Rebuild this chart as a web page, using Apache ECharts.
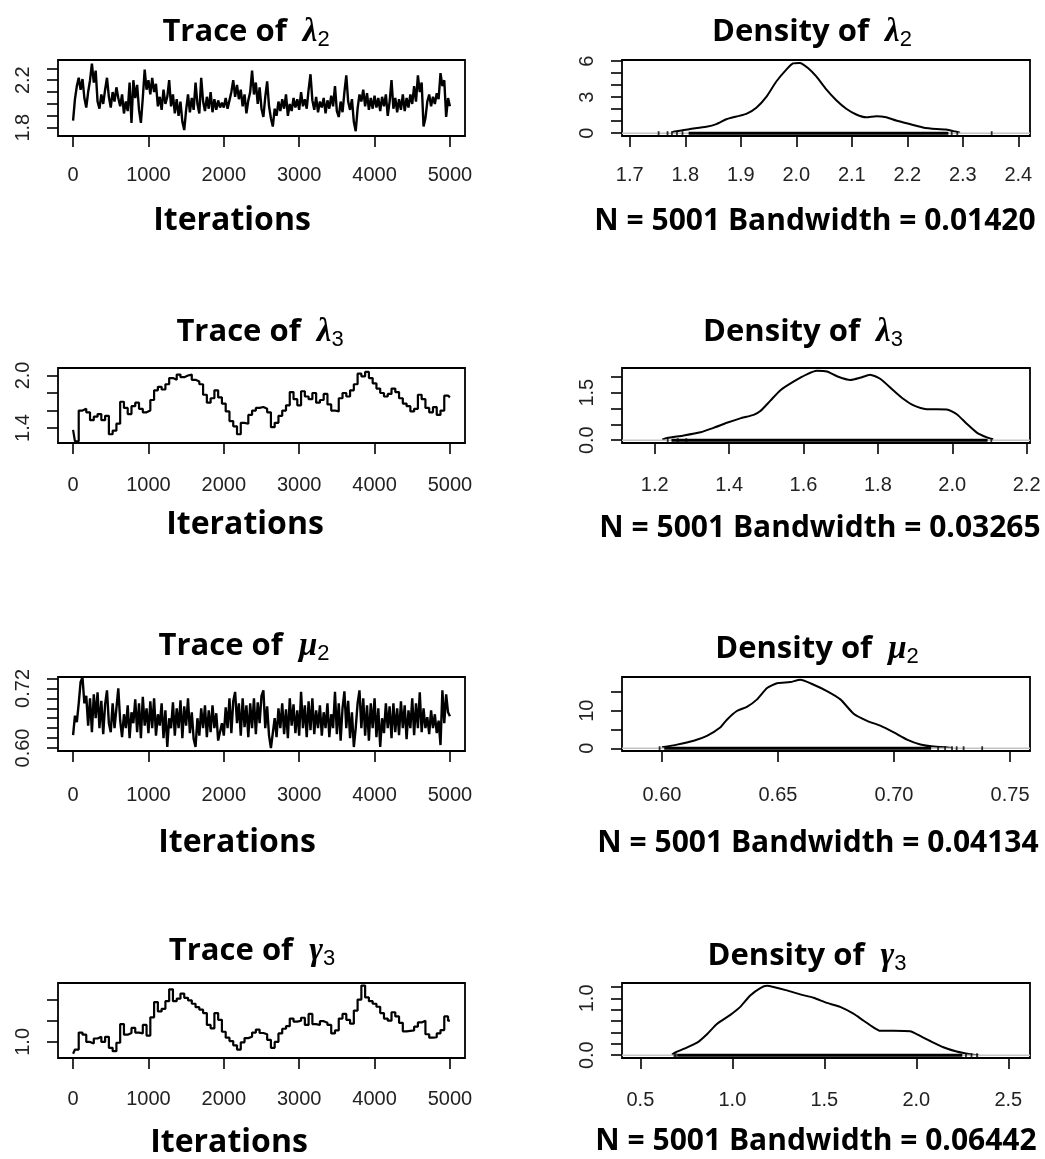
<!DOCTYPE html>
<html>
<head>
<meta charset="utf-8">
<script src="https://cdn.jsdelivr.net/npm/echarts@6/dist/echarts.min.js"></script>
<style>
  html, body { margin: 0; padding: 0; background: #fff; }
  #chart { width: 1045px; height: 1159px; }
</style>
</head>
<body>
<div id="chart"></div>
<script>
// ---------------------------------------------------------------------------
// MCMC output: trace draws (thinned) and kernel density estimates
// ---------------------------------------------------------------------------
const N_DRAWS = 5001;
const traceIterTicks = [0, 1000, 2000, 3000, 4000, 5000];

// lambda_2 chain, one stored draw every 25 iterations
const lambda2Step = 25;
const lambda2Trace = [
  1.86, 2.04, 2.15, 2.22, 2.12, 2.21, 2.05, 1.97, 2.10, 2.20, 2.34, 2.18, 2.28, 2.02, 1.96, 2.08, 2.00, 2.12, 2.22, 2.06,
  1.97, 2.10, 2.02, 2.14, 2.05, 1.98, 2.08, 1.92, 2.02, 1.94, 2.18, 1.84, 2.20, 2.05, 2.16, 1.95, 1.84, 2.05, 2.29, 2.12,
  2.20, 2.08, 2.22, 2.10, 2.17, 1.98, 2.06, 1.95, 2.12, 2.00, 2.06, 2.20, 1.98, 2.08, 1.92, 2.04, 1.90, 2.02, 1.85, 1.78,
  1.95, 2.08, 1.93, 2.05, 1.95, 2.18, 2.00, 1.92, 2.22, 2.02, 1.94, 2.06, 1.96, 2.10, 1.93, 2.04, 1.95, 2.03, 1.97, 2.01,
  1.97, 2.05, 1.96, 2.03, 2.10, 2.20, 2.06, 2.16, 2.04, 2.12, 1.98, 2.08, 1.92, 2.03, 2.10, 2.28, 2.08, 2.18, 2.00, 2.14,
  1.96, 1.89, 2.06, 2.19, 1.98, 1.88, 1.81, 1.96, 1.90, 2.02, 1.94, 2.04, 1.96, 2.08, 1.90, 2.00, 1.94, 2.05, 1.97, 2.04,
  1.95, 2.10, 1.98, 2.04, 1.96, 2.12, 2.25, 2.03, 1.95, 2.06, 1.93, 2.02, 1.97, 2.05, 1.92, 2.03, 1.96, 2.07, 1.98, 2.15,
  1.94, 1.89, 2.02, 1.93, 2.10, 2.24, 2.02, 1.95, 2.04, 1.85, 1.77, 1.96, 2.08, 2.02, 2.12, 1.98, 2.09, 1.95, 2.05, 1.96,
  2.07, 1.97, 2.05, 1.94, 2.06, 1.98, 2.08, 1.90, 2.02, 2.20, 1.96, 2.05, 1.93, 2.04, 1.95, 2.08, 1.94, 2.05, 1.97, 2.08,
  2.00, 2.15, 2.02, 2.24, 2.10, 2.18, 1.81, 1.88, 2.02, 2.08, 1.98, 2.06, 2.00, 2.09, 2.04, 2.26, 2.15, 2.20, 1.89, 2.05,
  1.98
];
const lambda2TraceYTicks = [1.8, 1.9, 2.0, 2.1, 2.2, 2.3];
const lambda2TraceYLabels = [1.8, 2.2];

// lambda_3 chain, one stored draw every 50 iterations
const lambda3Step = 50;
const lambda3Trace = [
  1.38, 1.25, 1.60, 1.62, 1.58, 1.49, 1.53, 1.56, 1.49, 1.54, 1.33, 1.37, 1.45, 1.70, 1.63, 1.56, 1.65, 1.69, 1.62, 1.58,
  1.60, 1.72, 1.83, 1.87, 1.84, 1.90, 1.97, 1.95, 2.01, 1.98, 2.00, 2.01, 1.95, 1.93, 1.90, 1.78, 1.69, 1.74, 1.83, 1.75,
  1.68, 1.59, 1.48, 1.42, 1.33, 1.46, 1.45, 1.55, 1.60, 1.63, 1.64, 1.62, 1.58, 1.41, 1.46, 1.54, 1.60, 1.66, 1.81, 1.73,
  1.66, 1.82, 1.76, 1.73, 1.80, 1.69, 1.72, 1.79, 1.67, 1.60, 1.59, 1.74, 1.80, 1.76, 1.83, 1.90, 2.02, 1.99, 2.04, 1.97,
  1.91, 1.85, 1.80, 1.76, 1.79, 1.85, 1.81, 1.74, 1.68, 1.65, 1.59, 1.62, 1.78, 1.73, 1.63, 1.58, 1.64, 1.55, 1.60, 1.77,
  1.75
];
const lambda3TraceYTicks = [1.4, 1.6, 1.8, 2.0];
const lambda3TraceYLabels = [1.4, 2.0];

// mu_2 chain, one stored draw every 25 iterations
const mu2Step = 25;
const mu2Trace = [
  0.626, 0.665, 0.652, 0.690, 0.733, 0.742, 0.690, 0.705, 0.645, 0.700, 0.632, 0.708, 0.660, 0.712, 0.640, 0.695, 0.628, 0.688, 0.716, 0.650,
  0.632, 0.690, 0.640, 0.680, 0.720, 0.655, 0.622, 0.668, 0.640, 0.686, 0.620, 0.672, 0.650, 0.698, 0.632, 0.690, 0.620, 0.703, 0.645, 0.680,
  0.630, 0.694, 0.640, 0.700, 0.625, 0.668, 0.645, 0.690, 0.620, 0.676, 0.602, 0.660, 0.640, 0.692, 0.625, 0.680, 0.640, 0.696, 0.620, 0.684,
  0.645, 0.700, 0.630, 0.672, 0.618, 0.602, 0.660, 0.625, 0.680, 0.640, 0.686, 0.622, 0.676, 0.632, 0.686, 0.640, 0.670, 0.615, 0.612, 0.650,
  0.625, 0.682, 0.640, 0.700, 0.630, 0.694, 0.713, 0.650, 0.690, 0.625, 0.700, 0.642, 0.686, 0.622, 0.690, 0.640, 0.700, 0.628, 0.692, 0.650,
  0.705, 0.716, 0.640, 0.684, 0.625, 0.600, 0.630, 0.660, 0.622, 0.680, 0.640, 0.690, 0.628, 0.678, 0.620, 0.700, 0.645, 0.688, 0.630, 0.676,
  0.625, 0.713, 0.640, 0.686, 0.622, 0.694, 0.636, 0.700, 0.628, 0.676, 0.640, 0.686, 0.625, 0.672, 0.640, 0.690, 0.622, 0.668, 0.640, 0.713,
  0.628, 0.690, 0.615, 0.680, 0.714, 0.640, 0.695, 0.620, 0.672, 0.602, 0.640, 0.690, 0.716, 0.640, 0.700, 0.625, 0.686, 0.615, 0.690, 0.640,
  0.700, 0.622, 0.680, 0.602, 0.660, 0.630, 0.690, 0.640, 0.684, 0.620, 0.690, 0.632, 0.680, 0.626, 0.694, 0.640, 0.686, 0.618, 0.676, 0.640,
  0.700, 0.626, 0.690, 0.640, 0.712, 0.632, 0.680, 0.640, 0.662, 0.628, 0.676, 0.640, 0.668, 0.630, 0.655, 0.606, 0.716, 0.650, 0.708, 0.672,
  0.664
];
const mu2TraceYTicks = [0.60, 0.62, 0.64, 0.66, 0.68, 0.70, 0.72, 0.74];
const mu2TraceYLabels = [0.60, 0.72];

// gamma_3 chain, one stored draw every 50 iterations
const gamma3Step = 50;
const gamma3Trace = [
  0.72, 0.82, 1.22, 1.17, 1.00, 0.96, 1.08, 1.12, 1.00, 1.12, 0.86, 0.78, 0.98, 1.42, 1.17, 1.21, 1.33, 1.22, 1.20, 1.40,
  1.15, 1.58, 1.94, 1.72, 1.78, 1.96, 2.24, 1.96, 2.02, 2.14, 2.04, 1.98, 1.90, 1.82, 1.76, 1.68, 1.40, 1.32, 1.68, 1.52,
  1.24, 1.10, 1.02, 0.92, 0.82, 0.99, 1.09, 1.12, 1.22, 1.29, 1.21, 1.18, 1.05, 0.86, 1.00, 1.20, 1.31, 1.37, 1.55, 1.48,
  1.50, 1.57, 1.40, 1.66, 1.42, 1.40, 1.49, 1.45, 1.40, 1.20, 1.27, 1.55, 1.66, 1.52, 1.43, 1.74, 2.00, 2.33, 2.05, 1.96,
  1.90, 1.83, 1.68, 1.55, 1.50, 1.70, 1.60, 1.45, 1.25, 1.26, 1.27, 1.36, 1.46, 1.50, 1.18, 1.10, 1.11, 1.20, 1.28, 1.60,
  1.50
];
const gamma3TraceYTicks = [1.0, 1.5, 2.0];
const gamma3TraceYLabels = [1.0];

// Kernel density estimates: [value, density]
const lambda2Density = [
  [1.776, 0.05], [1.781, 0.14], [1.808, 0.34], [1.838, 0.54], [1.856, 0.76], [1.874, 1.16], [1.892, 1.39], [1.910, 1.61],
  [1.928, 2.12], [1.946, 3.03], [1.964, 4.31], [1.982, 5.30], [1.994, 5.81], [2.006, 5.86], [2.021, 5.44], [2.036, 4.73],
  [2.054, 3.65], [2.072, 2.75], [2.090, 2.04], [2.108, 1.56], [2.126, 1.33], [2.144, 1.42], [2.162, 1.33], [2.180, 1.05],
  [2.204, 0.76], [2.228, 0.48], [2.252, 0.34], [2.270, 0.30], [2.286, 0.14], [2.295, 0.04]
];
const lambda3Density = [
  [1.220, 0.02], [1.233, 0.07], [1.278, 0.15], [1.323, 0.25], [1.358, 0.39], [1.394, 0.55], [1.430, 0.69], [1.466, 0.80],
  [1.484, 0.92], [1.511, 1.25], [1.538, 1.58], [1.573, 1.85], [1.609, 2.08], [1.636, 2.19], [1.663, 2.17], [1.690, 2.02],
  [1.726, 1.90], [1.752, 1.97], [1.779, 2.07], [1.806, 1.94], [1.842, 1.57], [1.869, 1.30], [1.896, 1.10], [1.931, 0.98],
  [1.985, 0.97], [2.012, 0.82], [2.039, 0.52], [2.066, 0.24], [2.093, 0.09], [2.110, 0.03]
];
const mu2Density = [
  [0.600, 0.26], [0.6065, 0.96], [0.6137, 2.0], [0.6194, 3.3], [0.6251, 5.5], [0.628, 7.6], [0.6323, 9.9], [0.6366, 11.0],
  [0.641, 13.0], [0.6453, 16.0], [0.6496, 17.3], [0.6553, 17.6], [0.6596, 18.2], [0.6654, 16.9], [0.6711, 15.2], [0.6769, 13.0],
  [0.6826, 9.2], [0.6884, 7.3], [0.6941, 6.0], [0.6999, 4.2], [0.7056, 2.3], [0.7114, 1.0], [0.7171, 0.44], [0.725, 0.1]
];
const gamma3Density = [
  [0.672, 0.01], [0.690, 0.05], [0.735, 0.11], [0.808, 0.22], [0.862, 0.37], [0.916, 0.55], [0.989, 0.71], [1.043, 0.85],
  [1.097, 1.05], [1.152, 1.18], [1.188, 1.22], [1.224, 1.20], [1.296, 1.14], [1.369, 1.07], [1.441, 1.01], [1.514, 0.92],
  [1.586, 0.85], [1.658, 0.73], [1.712, 0.61], [1.767, 0.49], [1.803, 0.43], [1.876, 0.43], [1.966, 0.42], [2.020, 0.34],
  [2.075, 0.25], [2.147, 0.14], [2.219, 0.065], [2.292, 0.018], [2.340, 0.0]
];

// Rug of observed draws along the density baseline: dense span + isolated draws
const lambda2RugBand = [1.806, 2.274];
const lambda2RugDots = [1.752, 1.768, 1.776, 1.785, 1.795, 2.280, 2.290, 2.352];
const lambda3RugBand = [1.245, 2.095];
const lambda3RugDots = [1.235, 1.262, 1.285, 2.105];
const mu2RugBand = [0.601, 0.716];
const mu2RugDots = [0.599, 0.719, 0.722, 0.725, 0.727, 0.730, 0.738];
const gamma3RugBand = [0.700, 2.250];
const gamma3RugDots = [0.685, 0.693, 2.270, 2.300, 2.330];

const lambda2DensXTicks = [1.7, 1.8, 1.9, 2.0, 2.1, 2.2, 2.3, 2.4];
const lambda2DensYTicks = [0, 1, 2, 3, 4, 5, 6];
const lambda2DensYLabels = [0, 3, 6];
const lambda3DensXTicks = [1.2, 1.4, 1.6, 1.8, 2.0, 2.2];
const lambda3DensYTicks = [0, 0.5, 1.0, 1.5, 2.0];
const lambda3DensYLabels = [0, 1.5];
const mu2DensXTicks = [0.60, 0.65, 0.70, 0.75];
const mu2DensYTicks = [0, 5, 10, 15];
const mu2DensYLabels = [0, 10];
const gamma3DensXTicks = [0.5, 1.0, 1.5, 2.0, 2.5];
const gamma3DensYTicks = [0, 0.2, 0.4, 0.6, 0.8, 1.0, 1.2];
const gamma3DensYLabels = [0, 1.0];

const bandwidths = ['0.01420', '0.03265', '0.04134', '0.06442'];

// ---------------------------------------------------------------------------
// Panel layout
// ---------------------------------------------------------------------------
const TICK_FONT = '"Liberation Sans", Arial, sans-serif';
const TEXT_FONT = '"Open Sans", Lato, sans-serif';
const GREEK_FONT = '"Liberation Serif", "DejaVu Serif", serif';

const rows = [
  { top: 60,  height: 76, sym: 'λ', sub: '2' },
  { top: 368, height: 75, sym: 'λ', sub: '3' },
  { top: 677, height: 74, sym: 'μ', sub: '2' },
  { top: 983, height: 75, sym: 'γ', sub: '3' }
];

const panels = [
  // row 1
  { kind: 'trace', row: 0, values: lambda2Trace, step: lambda2Step, stepped: false,
    x: [-200, 5200], xTicks: traceIterTicks, xDec: 0, xMargin: 29,
    y: [1.73, 2.37], yTicks: lambda2TraceYTicks, yLabels: lambda2TraceYLabels, yDec: 1,
    title: [246, 32], xlab: [232, 221] },
  { kind: 'density', row: 0, curve: lambda2Density, band: lambda2RugBand, dots: lambda2RugDots, bw: bandwidths[0],
    x: [1.686, 2.421], xTicks: lambda2DensXTicks, xDec: 1, xMargin: 29,
    y: [-0.235, 6.1], yTicks: lambda2DensYTicks, yLabels: lambda2DensYLabels, yDec: 0,
    title: [812, 32], xlab: [815, 221] },
  // row 2
  { kind: 'trace', row: 1, values: lambda3Trace, step: lambda3Step, stepped: true,
    x: [-200, 5200], xTicks: traceIterTicks, xDec: 0, xMargin: 32,
    y: [1.23, 2.085], yTicks: lambda3TraceYTicks, yLabels: lambda3TraceYLabels, yDec: 1,
    title: [260, 332], xlab: [245, 525] },
  { kind: 'density', row: 1, curve: lambda3Density, band: lambda3RugBand, dots: lambda3RugDots, bw: bandwidths[1],
    x: [1.112, 2.209], xTicks: lambda3DensXTicks, xDec: 1, xMargin: 32,
    y: [-0.088, 2.28], yTicks: lambda3DensYTicks, yLabels: lambda3DensYLabels, yDec: 1,
    title: [803, 332], xlab: [820, 528] },
  // row 3
  { kind: 'trace', row: 2, values: mu2Trace, step: mu2Step, stepped: false,
    x: [-200, 5200], xTicks: traceIterTicks, xDec: 0, xMargin: 34,
    y: [0.594, 0.743], yTicks: mu2TraceYTicks, yLabels: mu2TraceYLabels, yDec: 2,
    title: [244, 646], xlab: [237, 843] },
  { kind: 'density', row: 2, curve: mu2Density, band: mu2RugBand, dots: mu2RugDots, bw: bandwidths[2],
    x: [0.5828, 0.7586], xTicks: mu2DensXTicks, xDec: 2, xMargin: 34,
    y: [-0.73, 18.95], yTicks: mu2DensYTicks, yLabels: mu2DensYLabels, yDec: 0,
    title: [817, 649], xlab: [818, 843] },
  // row 4
  { kind: 'trace', row: 3, values: gamma3Trace, step: gamma3Step, stepped: true,
    x: [-200, 5200], xTicks: traceIterTicks, xDec: 0, xMargin: 31,
    y: [0.62, 2.39], yTicks: gamma3TraceYTicks, yLabels: gamma3TraceYLabels, yDec: 1,
    title: [252, 951], xlab: [229, 1143] },
  { kind: 'density', row: 3, curve: gamma3Density, band: gamma3RugBand, dots: gamma3RugDots, bw: bandwidths[3],
    x: [0.40, 2.618], xTicks: gamma3DensXTicks, xDec: 1, xMargin: 32,
    y: [-0.049, 1.27], yTicks: gamma3DensYTicks, yLabels: gamma3DensYLabels, yDec: 1,
    title: [807, 956], xlab: [816, 1141] }
];

const COLS = { trace: { left: 58, width: 407 }, density: { left: 622, width: 408 } };

const option = {
  animation: false,
  backgroundColor: '#ffffff',
  grid: [], xAxis: [], yAxis: [], series: [], graphic: []
};

const tickStyle = { color: '#000', width: 1.6 };
const labelStyle = { color: '#222', fontFamily: TICK_FONT, fontSize: 20 };

panels.forEach((p, i) => {
  const row = rows[p.row];
  const col = COLS[p.kind];
  option.grid.push({
    left: col.left, top: row.top, width: col.width, height: row.height,
    show: true, borderColor: '#000', borderWidth: 1.8, backgroundColor: 'transparent',
    containLabel: false, outerBoundsMode: 'none'
  });
  option.xAxis.push({
    type: 'value', gridIndex: i, min: p.x[0], max: p.x[1], position: 'bottom',
    axisLine: { show: false, onZero: false }, splitLine: { show: false },
    axisTick: { show: true, inside: false, length: 11, lineStyle: tickStyle, customValues: p.xTicks },
    axisLabel: Object.assign({ show: true, margin: p.xMargin, customValues: p.xTicks,
      formatter: v => Number(v).toFixed(p.xDec) }, labelStyle)
  });
  option.yAxis.push({
    type: 'value', gridIndex: i, min: p.y[0], max: p.y[1], position: 'left',
    axisLine: { show: false, onZero: false }, splitLine: { show: false },
    axisTick: { show: true, inside: false, length: 11, lineStyle: tickStyle, customValues: p.yTicks },
    axisLabel: Object.assign({ show: true, margin: 25, rotate: 90, customValues: p.yLabels,
      formatter: v => Number(v).toFixed(p.yDec) }, labelStyle)
  });

  if (p.kind === 'trace') {
    // slowly mixing chains hold their value between accepted moves: drawn as steps
    option.series.push({
      type: 'line', xAxisIndex: i, yAxisIndex: i, silent: true,
      step: p.stepped ? 'middle' : false,
      data: p.values.map((v, k) => [k * p.step, v]),
      symbol: 'none', lineStyle: { color: '#000', width: p.stepped ? 2.2 : 2.4 }, z: 2
    });
  } else {
    option.series.push({
      type: 'line', xAxisIndex: i, yAxisIndex: i, silent: true,
      data: p.curve, smooth: 0.2, symbol: 'none',
      lineStyle: { color: '#000', width: 2 }, z: 2
    });
    // zero reference line across the panel
    option.series.push({
      type: 'line', xAxisIndex: i, yAxisIndex: i, silent: true,
      data: [[p.x[0], 0], [p.x[1], 0]], symbol: 'none',
      lineStyle: { color: '#c4c4c4', width: 1.4 }, z: 3
    });
    // rug of draws
    option.series.push({
      type: 'line', xAxisIndex: i, yAxisIndex: i, silent: true,
      data: [[p.band[0], 0], [p.band[1], 0]], symbol: 'none',
      lineStyle: { color: '#000', width: 3 }, z: 4
    });
    option.series.push({
      type: 'scatter', xAxisIndex: i, yAxisIndex: i, silent: true,
      data: p.dots.map(d => [d, 0]), symbol: 'rect', symbolSize: [1.8, 4],
      itemStyle: { color: '#000' }, z: 4
    });
  }

  const word = p.kind === 'trace' ? 'Trace' : 'Density';
  option.graphic.push({
    type: 'text', x: p.title[0], y: p.title[1], silent: true,
    style: {
      text: '{t|' + word + ' of  }{g|' + row.sym + '}{s|' + row.sub + '}',
      align: 'center', verticalAlign: 'middle',
      rich: {
        t: { fontFamily: TEXT_FONT, fontWeight: 'bold', fontSize: 31, lineHeight: 46, fill: '#000' },
        g: { fontFamily: GREEK_FONT, fontStyle: 'italic', fontWeight: 'bold', fontSize: 33, lineHeight: 46, fill: '#000' },
        s: { fontFamily: TICK_FONT, fontSize: 22, lineHeight: 46, padding: [16, 0, 0, 0], fill: '#000' }
      }
    }
  });
  const isTrace = p.kind === 'trace';
  option.graphic.push({
    type: 'text', x: p.xlab[0], y: p.xlab[1], silent: true,
    style: {
      text: isTrace ? 'Iterations' : 'N = ' + N_DRAWS + ' Bandwidth = ' + p.bw,
      align: 'center', verticalAlign: 'middle',
      fontFamily: TEXT_FONT, fontWeight: 'bold', fontSize: isTrace ? 32 : 30, fill: '#000'
    }
  });
});

const chart = echarts.init(document.getElementById('chart'), null, { renderer: 'canvas' });
chart.setOption(option);
</script>
</body>
</html>
